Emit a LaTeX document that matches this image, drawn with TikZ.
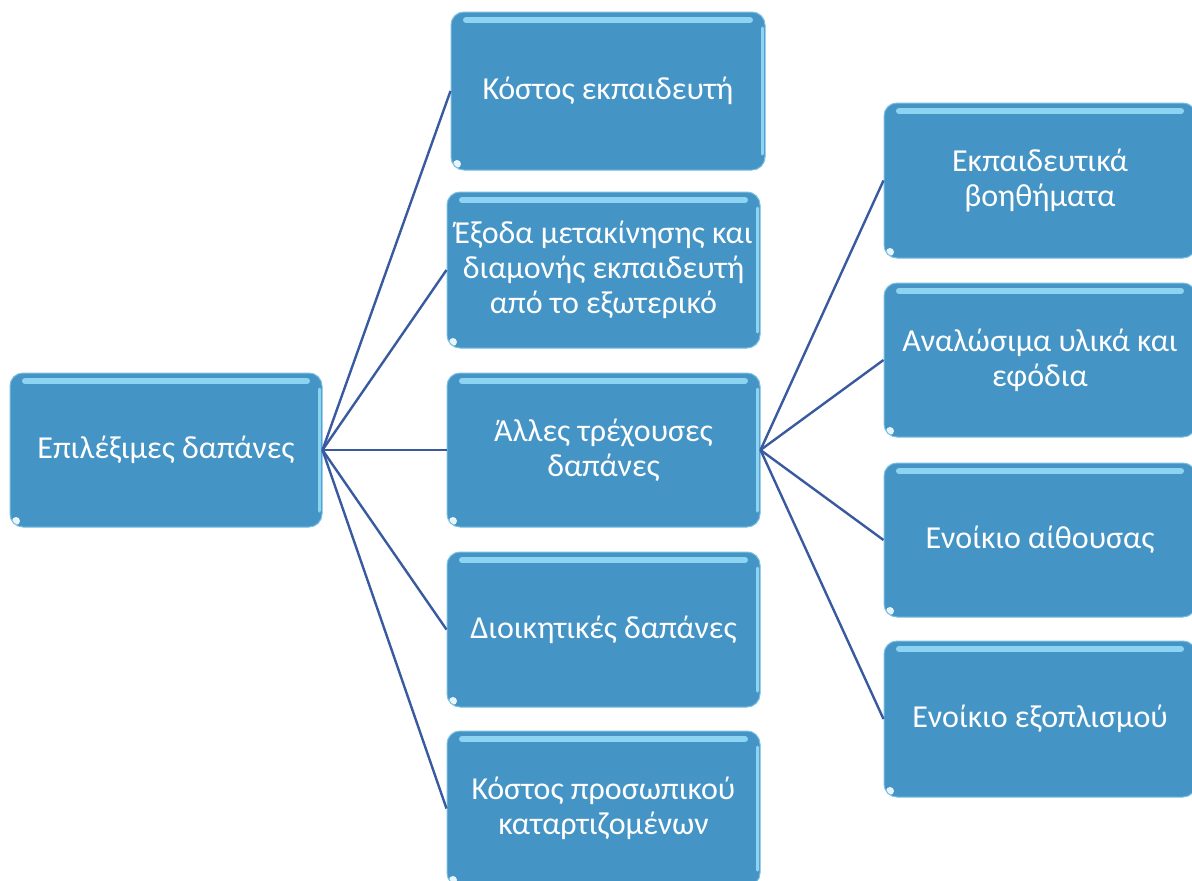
\documentclass[tikz,border=0pt]{standalone}
\usepackage{fontspec}
\setmainfont{Carlito}
\usepackage{tikz}
\usetikzlibrary{positioning, calc}
\definecolor{boxfill}{RGB}{69,148,198}
\definecolor{boxedge}{RGB}{120,190,225}
\definecolor{boxshine}{RGB}{140,212,242}
\definecolor{linkcol}{RGB}{58,90,160}
\tikzset{box/.style = {rectangle, rounded corners=13pt, fill=boxfill, draw=boxedge, line width=1pt,
    text=white, align=center, font=\fontsize{32}{35}\selectfont, inner sep=0pt,
    path picture={
      \draw[boxshine, line width=6pt, line cap=round]
        ([xshift=15pt,yshift=-8pt]path picture bounding box.north west) --
        ([xshift=-15pt,yshift=-8pt]path picture bounding box.north east);
      \draw[boxshine, line width=3pt, line cap=round]
        ([xshift=-3pt,yshift=-16pt]path picture bounding box.north east) --
        ([xshift=-3pt,yshift=16pt]path picture bounding box.south east);
      \fill[white!80!boxshine]
        ([xshift=6pt,yshift=6pt]path picture bounding box.south west) circle[radius=4pt];
    }},
  link/.style = {draw=linkcol, line width=2.4pt}}

\begin{document}
\begin{tikzpicture}[x=1pt, y=-1pt]
            \clip (0,0) rectangle (1192,881);
            \fill[white] (0,0) rectangle (1192,881);

            \node[box, minimum width=312pt, minimum height=154pt] (A) at (166,450) {Επιλέξιμες δαπάνες};

            \node[box, minimum width=314pt, minimum height=158pt] (B) at (608,91)    {Κόστος εκπαιδευτή};
            \node[box, minimum width=313pt, minimum height=156pt] (C) at (603.5,270) {Έξοδα μετακίνησης και\\διαμονής εκπαιδευτή\\από το εξωτερικό};
            \node[box, minimum width=313pt, minimum height=154pt] (D) at (603.5,450) {Άλλες τρέχουσες\\δαπάνες};
            \node[box, minimum width=313pt, minimum height=155pt] (E) at (603.5,629.5) {Διοικητικές δαπάνες};
            \node[box, minimum width=313pt, minimum height=155pt] (F) at (603.5,808.5) {Κόστος προσωπικού\\καταρτιζομένων};

            \node[box, minimum width=312pt, minimum height=155pt] (G) at (1040,180.5) {Εκπαιδευτικά\\βοηθήματα};
            \node[box, minimum width=312pt, minimum height=154pt] (H) at (1040,360)   {Αναλώσιμα υλικά και\\εφόδια};
            \node[box, minimum width=312pt, minimum height=154pt] (I) at (1040,540)   {Ενοίκιο αίθουσας};
            \node[box, minimum width=312pt, minimum height=156pt] (J) at (1040,719)   {Ενοίκιο εξοπλισμού};

            \foreach \n in {B,C,D,E,F}
                \draw[link] (A.east) -- (\n.west);
            \foreach \n in {G,H,I,J}
                \draw[link] (D.east) -- (\n.west);
        \end{tikzpicture}
\end{document}
